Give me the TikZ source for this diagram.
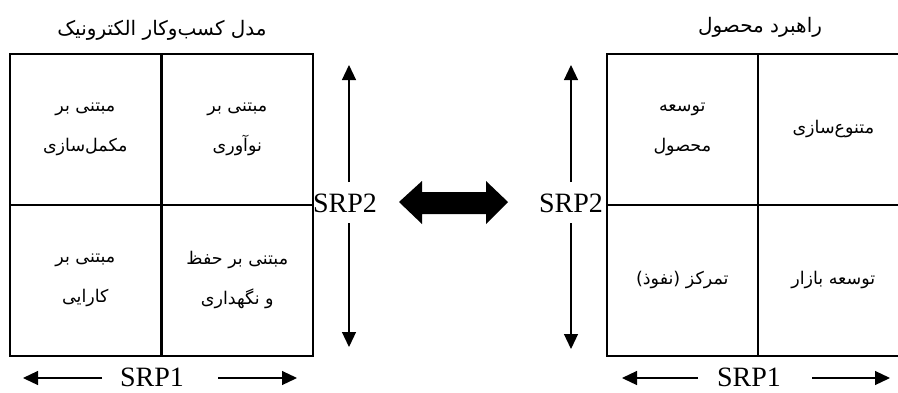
\documentclass[tikz,border=0pt]{standalone}
\usepackage{fontspec}
\setmainfont{Liberation Serif}
\newfontfamily\fa[Script=Arabic]{DejaVu Sans}
\TeXXeTstate=1
\usetikzlibrary{arrows.meta}
\begin{document}
\begin{tikzpicture}[x=1pt,y=-1pt,
  cell/.style={draw, line width=1.6pt, minimum width=151pt, minimum height=151pt,
    inner sep=0pt, anchor=north west, align=center,
    font=\fa\fontsize{17.5}{40}\selectfont},
  ttl/.style={font=\fa\fontsize{20}{24}\selectfont, inner sep=0pt},
  lat/.style={font=\fontsize{28}{30}\selectfont, inner sep=0pt},
  thin/.style={line width=1.2pt, -{Triangle[length=15pt,width=14pt]}}]
\clip (0,0) rectangle (898,392);
% left grid
\node[cell] (lul) at (9,53) {\beginR مبتنی بر\endR\\\beginR مکمل^^^^200cسازی\endR};
\node[cell] (lur) at (161,53) {\beginR مبتنی بر\endR\\\beginR نوآوری\endR};
\node[cell] (lll) at (9,204) {\beginR مبتنی بر\endR\\\beginR کارایی\endR};
\node[cell] (llr) at (161,204) {\beginR مبتنی بر حفظ\endR\\\beginR و نگهداری\endR};
% right grid
\node[cell] (rul) at (606,53) {\beginR توسعه\endR\\\beginR محصول\endR};
\node[cell] (rur) at (757,53) {\beginR متنوع^^^^200cسازی\endR};
\node[cell] (rll) at (606,204) {\beginR تمرکز (نفوذ)\endR};
\node[cell] (rlr) at (757,204) {\beginR توسعه بازار\endR};
% titles
\node[ttl] (t1) at (162,30) {\beginR مدل کسب^^^^200cوکار الکترونیک\endR};
\node[ttl] (t2) at (760,27) {\beginR راهبرد محصول\endR};
% SRP2 labels and vertical arrows
\node[lat] (s2l) at (345,203) {SRP2};
\node[lat] (s2r) at (571,203) {SRP2};
\coordinate (lu) at (349,65);
\coordinate (ld) at (349,347);
\coordinate (ru) at (571,65);
\coordinate (rd) at (571,349);
\draw[thin] (349,182) -- (lu);
\draw[thin] (349,223) -- (ld);
\draw[thin] (571,182) -- (ru);
\draw[thin] (571,223) -- (rd);
% SRP1 labels and horizontal arrows
\node[lat] (s1l) at (152,377) {SRP1};
\node[lat] (s1r) at (749,377) {SRP1};
\coordinate (a1) at (23,378);
\coordinate (a2) at (297,378);
\coordinate (a3) at (622,378);
\coordinate (a4) at (890,378);
\draw[thin] (102,378) -- (a1);
\draw[thin] (218,378) -- (a2);
\draw[thin] (698,378) -- (a3);
\draw[thin] (812,378) -- (a4);
% big double arrow
\fill (399,202) -- (422,181) -- (422,192) -- (486,192) -- (486,181) -- (508,202)
  -- (486,224) -- (486,214) -- (422,214) -- (422,224) -- cycle;
\end{tikzpicture}
\end{document}
